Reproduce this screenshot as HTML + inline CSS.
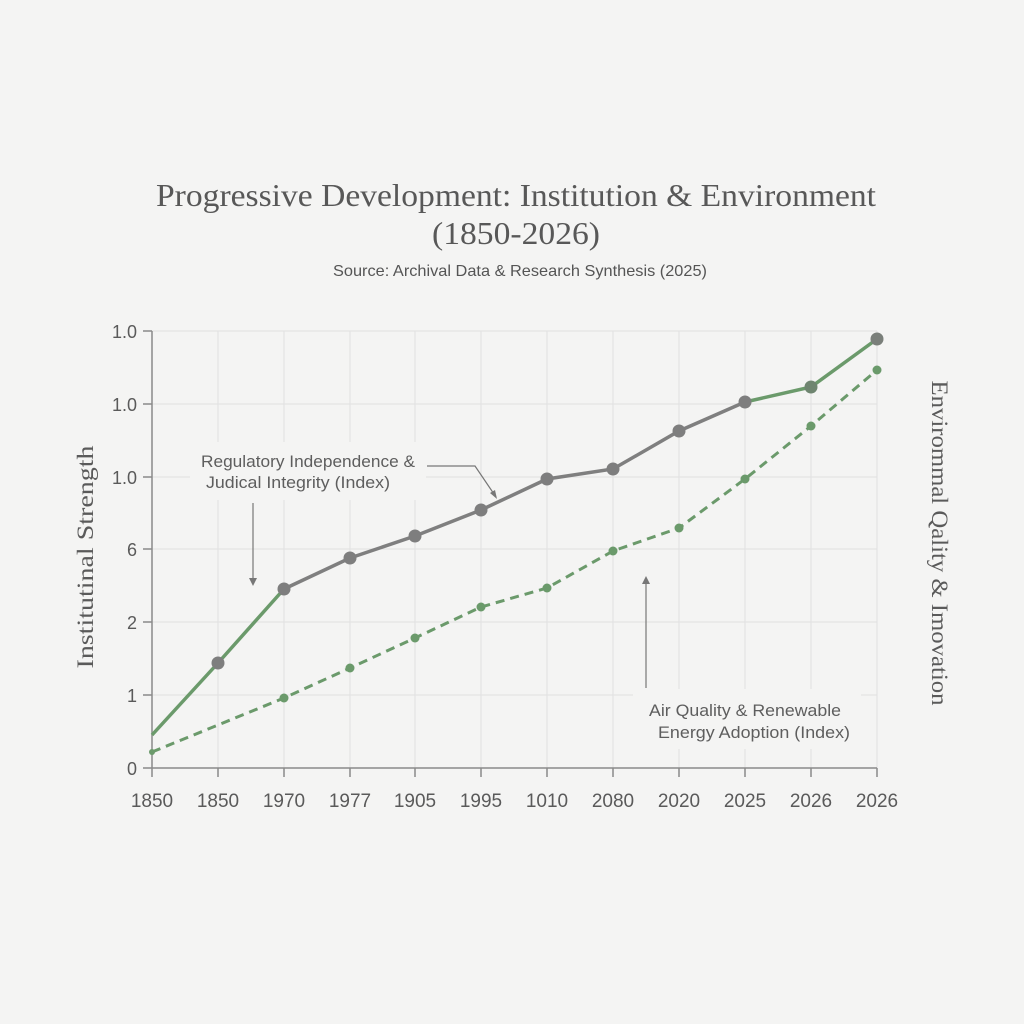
<!DOCTYPE html>
<html><head><meta charset="utf-8"><style>
html,body{margin:0;padding:0;background:#f4f4f3;}
svg{display:block;}
</style></head><body>
<svg width="1024" height="1024" viewBox="0 0 1024 1024" xmlns="http://www.w3.org/2000/svg">
<rect width="1024" height="1024" fill="#f4f4f3"/>
<!-- title -->
<text x="516" y="206" text-anchor="middle" font-family="Liberation Serif, serif" font-size="32" fill="#585858" textLength="720" lengthAdjust="spacingAndGlyphs">Progressive Development: Institution &amp; Environment</text>
<text x="516" y="244" text-anchor="middle" font-family="Liberation Serif, serif" font-size="32" fill="#585858" textLength="168" lengthAdjust="spacingAndGlyphs">(1850-2026)</text>
<text x="520" y="276" text-anchor="middle" font-family="Liberation Sans, sans-serif" font-size="16" fill="#555" textLength="374" lengthAdjust="spacingAndGlyphs">Source: Archival Data &amp; Research Synthesis (2025)</text>
<!-- grid -->
<g stroke="#e3e3e3" stroke-width="1.2">
<line x1="152" y1="331" x2="877" y2="331"/>
<line x1="152" y1="404" x2="877" y2="404"/>
<line x1="152" y1="477" x2="877" y2="477"/>
<line x1="152" y1="549" x2="877" y2="549"/>
<line x1="152" y1="622" x2="877" y2="622"/>
<line x1="152" y1="695" x2="877" y2="695"/>
<line x1="218" y1="331" x2="218" y2="768"/>
<line x1="284" y1="331" x2="284" y2="768"/>
<line x1="350" y1="331" x2="350" y2="768"/>
<line x1="415" y1="331" x2="415" y2="768"/>
<line x1="481" y1="331" x2="481" y2="768"/>
<line x1="547" y1="331" x2="547" y2="768"/>
<line x1="613" y1="331" x2="613" y2="768"/>
<line x1="679" y1="331" x2="679" y2="768"/>
<line x1="745" y1="331" x2="745" y2="768"/>
<line x1="811" y1="331" x2="811" y2="768"/>
<line x1="877" y1="331" x2="877" y2="768"/>
</g>
<!-- annotation boxes -->
<rect x="190" y="442" width="236" height="58" fill="#f4f4f3"/>
<rect x="633" y="689" width="228" height="60" fill="#f4f4f3"/>
<!-- axes -->
<g stroke="#8a8a8a" stroke-width="1.5">
<line x1="152" y1="331" x2="152" y2="768"/>
<line x1="152" y1="768" x2="877" y2="768"/>
<line x1="143" y1="331" x2="152" y2="331"/>
<line x1="143" y1="404" x2="152" y2="404"/>
<line x1="143" y1="477" x2="152" y2="477"/>
<line x1="143" y1="549" x2="152" y2="549"/>
<line x1="143" y1="622" x2="152" y2="622"/>
<line x1="143" y1="695" x2="152" y2="695"/>
<line x1="143" y1="768" x2="152" y2="768"/>
<line x1="152" y1="768" x2="152" y2="777"/>
<line x1="218" y1="768" x2="218" y2="777"/>
<line x1="284" y1="768" x2="284" y2="777"/>
<line x1="350" y1="768" x2="350" y2="777"/>
<line x1="415" y1="768" x2="415" y2="777"/>
<line x1="481" y1="768" x2="481" y2="777"/>
<line x1="547" y1="768" x2="547" y2="777"/>
<line x1="613" y1="768" x2="613" y2="777"/>
<line x1="679" y1="768" x2="679" y2="777"/>
<line x1="745" y1="768" x2="745" y2="777"/>
<line x1="811" y1="768" x2="811" y2="777"/>
<line x1="877" y1="768" x2="877" y2="777"/>
</g>
<!-- y labels -->
<g font-family="Liberation Sans, sans-serif" font-size="18" fill="#5a5a5a" text-anchor="end">
<text x="137" y="338">1.0</text>
<text x="137" y="411">1.0</text>
<text x="137" y="484">1.0</text>
<text x="137" y="556">6</text>
<text x="137" y="629">2</text>
<text x="137" y="702">1</text>
<text x="137" y="775">0</text>
</g>
<!-- x labels -->
<g font-family="Liberation Sans, sans-serif" font-size="19" fill="#5a5a5a" text-anchor="middle">
<text x="152" y="807">1850</text>
<text x="218" y="807">1850</text>
<text x="284" y="807">1970</text>
<text x="350" y="807">1977</text>
<text x="415" y="807">1905</text>
<text x="481" y="807">1995</text>
<text x="547" y="807">1010</text>
<text x="613" y="807">2080</text>
<text x="679" y="807">2020</text>
<text x="745" y="807">2025</text>
<text x="811" y="807">2026</text>
<text x="877" y="807">2026</text>
</g>
<!-- axis titles -->
<text transform="translate(93,557) rotate(-90)" text-anchor="middle" font-family="Liberation Serif, serif" font-size="23" fill="#5a5a5a" textLength="223" lengthAdjust="spacingAndGlyphs">Institutinal  Strength</text>
<text transform="translate(932,543) rotate(90)" text-anchor="middle" font-family="Liberation Serif, serif" font-size="23" fill="#5a5a5a" textLength="325" lengthAdjust="spacingAndGlyphs">Envirommal Qality &amp; Imovation</text>
<!-- green dashed series -->
<polyline fill="none" stroke="#6b9a6b" stroke-width="3" stroke-dasharray="9,6" points="152,752 284,698 350,668 415,638 481,607 547,588 613,551 679,528 745,479 811,426 877,370"/>
<g fill="#6b9a6b">
<circle cx="152" cy="752" r="3"/>
<circle cx="284" cy="698" r="4.5"/>
<circle cx="350" cy="668" r="4.5"/>
<circle cx="415" cy="638" r="4.5"/>
<circle cx="481" cy="607" r="4.5"/>
<circle cx="547" cy="588" r="4.5"/>
<circle cx="613" cy="551" r="4.5"/>
<circle cx="679" cy="528" r="4.5"/>
<circle cx="745" cy="479" r="4.5"/>
<circle cx="811" cy="426" r="4.5"/>
<circle cx="877" cy="370" r="4.5"/>
</g>
<!-- solid series -->
<polyline fill="none" stroke="#6b9a6b" stroke-width="3.5" points="152,735 218,663 284,589"/>
<polyline fill="none" stroke="#7f7f7f" stroke-width="3.5" points="284,589 350,558 415,536 481,510 547,479 613,469 679,431 745,402"/>
<polyline fill="none" stroke="#6b9a6b" stroke-width="3.5" points="745,402 811,387 877,339"/>
<g fill="#7e7e7e">
<circle cx="218" cy="663" r="6.5"/>
<circle cx="284" cy="589" r="6.5"/>
<circle cx="350" cy="558" r="6.5"/>
<circle cx="415" cy="536" r="6.5"/>
<circle cx="481" cy="510" r="6.5"/>
<circle cx="547" cy="479" r="6.5"/>
<circle cx="613" cy="469" r="6.5"/>
<circle cx="679" cy="431" r="6.5"/>
<circle cx="745" cy="402" r="6.5"/>
<circle cx="811" cy="387" r="6.5" fill="#6f8570"/>
<circle cx="877" cy="339" r="6.5" fill="#7a7f7a"/>
</g>
<!-- annotations -->
<g font-family="Liberation Sans, sans-serif" font-size="17" fill="#5e5e5e">
<text x="201" y="467" textLength="214" lengthAdjust="spacingAndGlyphs">Regulatory Independence &amp;</text>
<text x="206" y="488" textLength="184" lengthAdjust="spacingAndGlyphs">Judical Integrity (Index)</text>
<text x="649" y="716" textLength="192" lengthAdjust="spacingAndGlyphs">Air Quality &amp; Renewable</text>
<text x="658" y="738" textLength="192" lengthAdjust="spacingAndGlyphs">Energy Adoption (Index)</text>
</g>
<g stroke="#777" stroke-width="1.2" fill="none">
<polyline points="427,466 475,466 496,497"/>
<line x1="253" y1="503" x2="253" y2="584"/>
<line x1="646" y1="688" x2="646" y2="580"/>
</g>
<g fill="#777">
<polygon points="497,499 490,493 495,490"/>
<polygon points="253,586 249,578 257,578"/>
<polygon points="646,576 642,584 650,584"/>
</g>
</svg>
</body></html>
